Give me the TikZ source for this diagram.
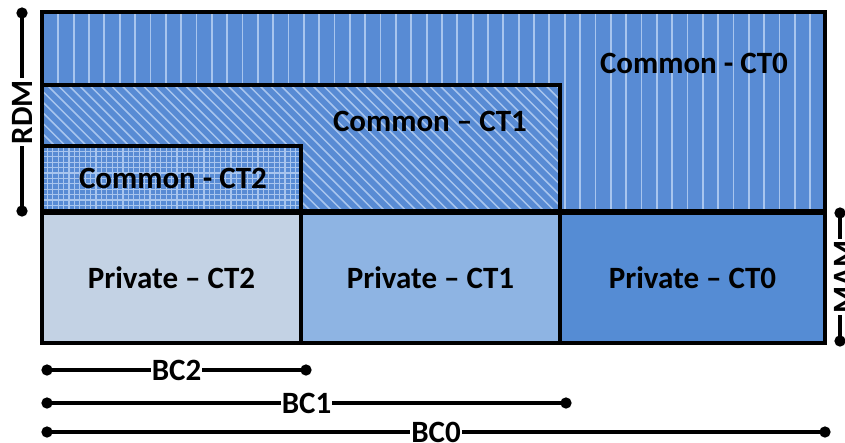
\documentclass[tikz,border=0pt]{standalone}
\usepackage{fontspec}
\setmainfont{Carlito}
\usetikzlibrary{arrows.meta}
\definecolor{tileblue}{RGB}{88,139,212}
\definecolor{hatch}{RGB}{168,197,238}
\definecolor{privA}{RGB}{85,140,212}
\definecolor{privB}{RGB}{142,180,227}
\definecolor{privC}{RGB}{195,210,228}

\begin{document}
\begin{tikzpicture}[x=1pt,y=-1pt,
  box/.style={draw=black, line width=4pt, inner sep=0pt, outer sep=0pt, anchor=north west},
  lbl/.style={font=\fontsize{31}{31}\selectfont\bfseries, inner sep=0pt},
  hatchline/.style={draw=hatch, line width=1.8pt},
  gridline/.style={draw=hatch, line width=1.1pt},
  dim/.style={line width=4pt, {Circle[length=11pt,width=11pt]}-{Circle[length=11pt,width=11pt]}},
  dimlbl/.style={font=\fontsize{31}{31}\selectfont\bfseries, fill=white, inner xsep=2pt, inner ysep=0pt}
]
\useasboundingbox (0,0) rectangle (845,442);
\fill[white] (0,0) rectangle (845,442);

% shared region, CT0: vertical hatching
\node[box, fill=tileblue, minimum width=783pt, minimum height=199pt] (cct0) at (42,12) {};
\begin{scope}
  \clip (cct0.north west) rectangle (cct0.south east);
  \foreach \k in {1,...,51}
    \draw[hatchline] ({43+15.345*\k},10) -- ({43+15.345*\k},215);
\end{scope}

% shared region, CT1: diagonal hatching
\node[box, fill=tileblue, minimum width=518pt, minimum height=126pt] (cct1) at (42,85) {};
\begin{scope}
  \clip (cct1.north west) rectangle (cct1.south east);
  \foreach \k in {-14,...,52}
    \draw[hatchline, line width=1.5pt] ({42+10.6*\k},80) -- ({42+10.6*\k+140},220);
\end{scope}

% shared region, CT2: fine grid
\node[box, fill=tileblue, minimum width=259pt, minimum height=65pt] (cct2) at (42,146) {};
\begin{scope}
  \clip (cct2.north west) rectangle (cct2.south east);
  \foreach \k in {1,...,48} \draw[gridline] ({42+5.4*\k},140) -- ({42+5.4*\k},215);
  \foreach \k in {1,...,12} \draw[gridline] (40,{146+5.4*\k}) -- (305,{146+5.4*\k});
\end{scope}

% private regions
\node[box, fill=privC, minimum width=259pt, minimum height=130pt] (pct2) at (42,213) {};
\node[box, fill=privB, minimum width=259pt, minimum height=130pt] (pct1) at (301,213) {};
\node[box, fill=privA, minimum width=265pt, minimum height=130pt] (pct0) at (560,213) {};

% borders of the shared regions on top of the hatching
\draw[black, line width=4pt] (cct0.north west) rectangle (cct0.south east);
\draw[black, line width=4pt] (cct1.north west) rectangle (cct1.south east);
\draw[black, line width=4pt] (cct2.north west) rectangle (cct2.south east);

% region labels
\node[lbl] (tct0) at (694,63) {Common - CT0};
\node[lbl] (tct1) at (430,121) {Common – CT1};
\node[lbl] (tct2) at (173,178) {Common - CT2};
\node[lbl] (tp2) at (pct2.center) {Private – CT2};
\node[lbl] (tp1) at (pct1.center) {Private – CT1};
\node[lbl] (tp0) at (pct0.center) {Private – CT0};

% dimension bars
\coordinate (rdmT) at (22,7.5);   \coordinate (rdmB) at (22,216.5);
\coordinate (mamT) at (840,207.5); \coordinate (mamB) at (840,346.5);
\coordinate (bc2L) at (41.5,370); \coordinate (bc2R) at (311.5,370);
\coordinate (bc1L) at (41.5,403); \coordinate (bc1R) at (571.5,403);
\coordinate (bc0L) at (41.5,432); \coordinate (bc0R) at (830.5,432);

\draw[dim] (rdmT) -- (rdmB) node[midway, dimlbl, rotate=90] (rdm) {RDM};
\draw[dim] (mamT) -- (mamB);
\node[dimlbl, rotate=90] (mam) at (844,277) {MAM};
\draw[dim] (bc2L) -- (bc2R) node[midway, dimlbl, inner xsep=1pt] (bc2) {BC2};
\draw[dim] (bc1L) -- (bc1R) node[midway, dimlbl, inner xsep=1pt] (bc1) {BC1};
\draw[dim] (bc0L) -- (bc0R) node[midway, dimlbl, inner xsep=1pt] (bc0) {BC0};
\end{tikzpicture}
\end{document}
